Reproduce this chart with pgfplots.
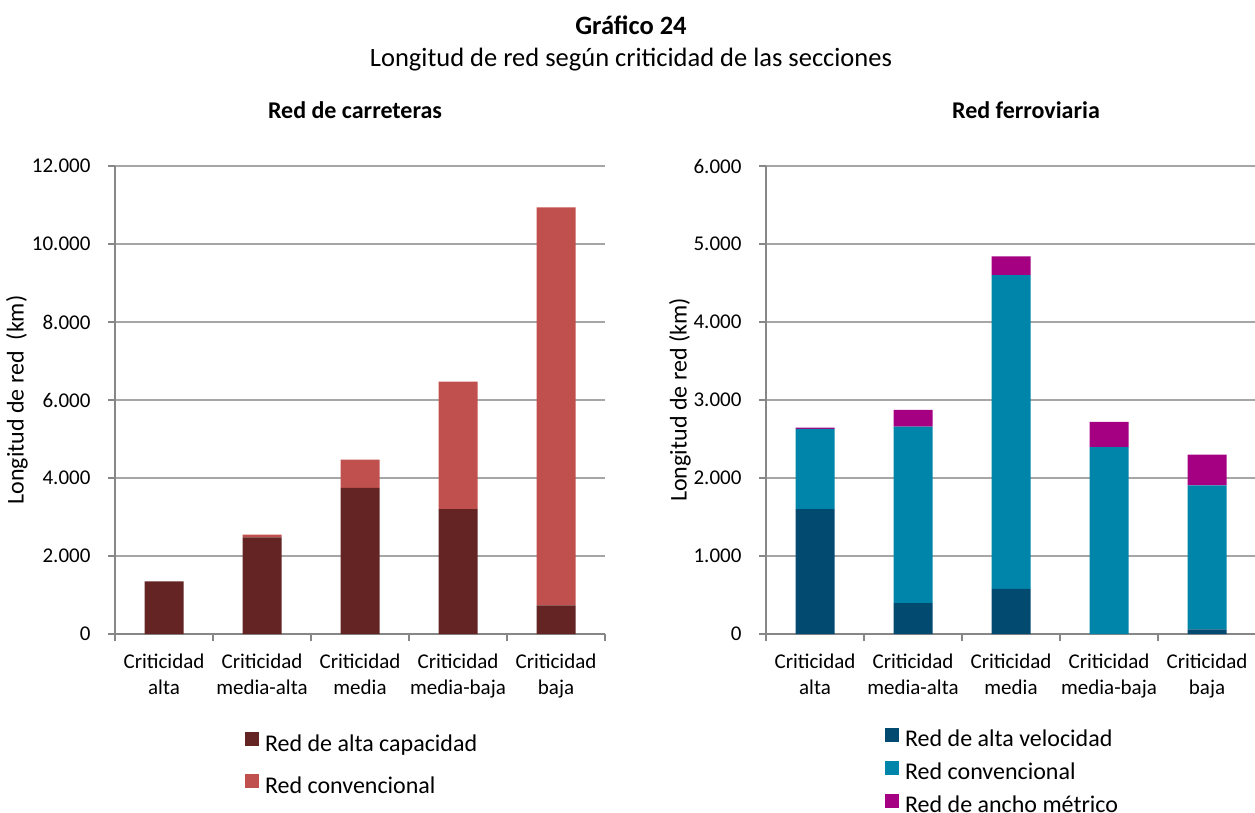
\documentclass[border=0pt]{standalone}
\usepackage{fontspec}
\setmainfont{Carlito}
\usepackage{pgfplots}
\pgfplotsset{compat=1.18}

\definecolor{altacap}{HTML}{632423}
\definecolor{convroad}{HTML}{C0504D}
\definecolor{altavel}{HTML}{034A70}
\definecolor{convrail}{HTML}{0085AA}
\definecolor{metrico}{HTML}{A50082}
\definecolor{gridgray}{HTML}{A6A6A6}
\definecolor{axisgray}{HTML}{878787}

\newcommand{\tickfont}{\fontsize{21}{26.7}\selectfont}
\newcommand{\labfont}{\fontsize{24}{28}\selectfont}
\newcommand{\headfont}{\fontsize{26.5}{30}\selectfont}

\pgfplotsset{
  critstyle/.style={
    scale only axis, width=490pt, height=468pt,
    xmin=-0.5, xmax=4.5, ymin=0,
    ybar stacked, bar width=39pt,
    axis x line*=bottom, axis y line*=left,
    axis line style={axisgray, line width=1.3pt, -},
    ymajorgrids, grid style={gridgray, line width=1.3pt},
    xtick={0,...,4},
    xticklabels={Criticidad\\alta, Criticidad\\media-alta, Criticidad\\media, Criticidad\\media-baja, Criticidad\\baja},
    minor xtick={-0.5,0.5,1.5,2.5,3.5,4.5},
    major x tick style={draw=none},
    minor x tick style={axisgray, line width=1.3pt},
    minor tick length=7pt, major tick length=7pt,
    tick align=outside,
    ytick style={axisgray, line width=1.3pt},
    xticklabel style={align=center, font=\tickfont, yshift=-9pt},
    yticklabel style={font=\tickfont, xshift=-14pt},
    scaled y ticks=false,
    /pgf/number format/1000 sep={.},
    /pgf/number format/assume math mode=true,
    ylabel style={font=\labfont, anchor=center},
    title style={font=\labfont\bfseries, anchor=center},
    legend image code/.code={\fill[##1] (0pt,-1pt) rectangle (14pt,13pt);},
    legend cell align=left,
    legend style={draw=none, fill=none, inner sep=0pt, outer sep=0pt,
      anchor=north west, font=\labfont,
      nodes={inner sep=0pt, text height=17pt, text depth=5pt},
      /tikz/every odd column/.append style={column sep=6pt}},
  }
}

\begin{document}
\begin{tikzpicture}
\path[use as bounding box] (0,0) rectangle (1255pt,812pt);

\node[font=\headfont\bfseries, anchor=base] at (631pt,777pt) {Gráfico 24};
\node[font=\headfont, anchor=base] at (631pt,745.3pt) {Longitud de red según criticidad de las secciones};

% Road network
\begin{axis}[critstyle,
  at={(115pt,178pt)}, anchor=south west,
  ymax=12000, ytick={0,2000,...,12000},
  title={Red de carreteras},
  title style={at={(axis description cs:0.4898,1.1068)}},
  ylabel={Longitud de red\ \ (km)},
  ylabel style={at={(axis description cs:-0.2,0.5)}},
  legend style={at={(axis description cs:0.2653,-0.2095)}, row sep=18pt},
]
\addplot[fill=altacap, draw=none] coordinates {(0,1350) (1,2480) (2,3750) (3,3200) (4,735)};
\addplot[fill=convroad, draw=none] coordinates {(0,0) (1,70) (2,720) (3,3270) (4,10205)};
\legend{Red de alta capacidad, Red convencional}
\end{axis}

% Rail network
\begin{axis}[critstyle,
  at={(766pt,178pt)}, anchor=south west,
  ymax=6000, ytick={0,1000,...,6000},
  title={Red ferroviaria},
  title style={at={(axis description cs:0.5306,1.1068)}},
  ylabel={Longitud de red (km)},
  ylabel style={at={(axis description cs:-0.1755,0.5)}},
  legend style={at={(axis description cs:0.243,-0.2008)}, row sep=9pt},
]
\addplot[fill=altavel, draw=none] coordinates {(0,1600) (1,395) (2,580) (3,0) (4,60)};
\addplot[fill=convrail, draw=none] coordinates {(0,1030) (1,2265) (2,4020) (3,2395) (4,1845)};
\addplot[fill=metrico, draw=none] coordinates {(0,15) (1,215) (2,240) (3,325) (4,395)};
\legend{Red de alta velocidad, Red convencional, Red de ancho métrico}
\end{axis}
\end{tikzpicture}
\end{document}
